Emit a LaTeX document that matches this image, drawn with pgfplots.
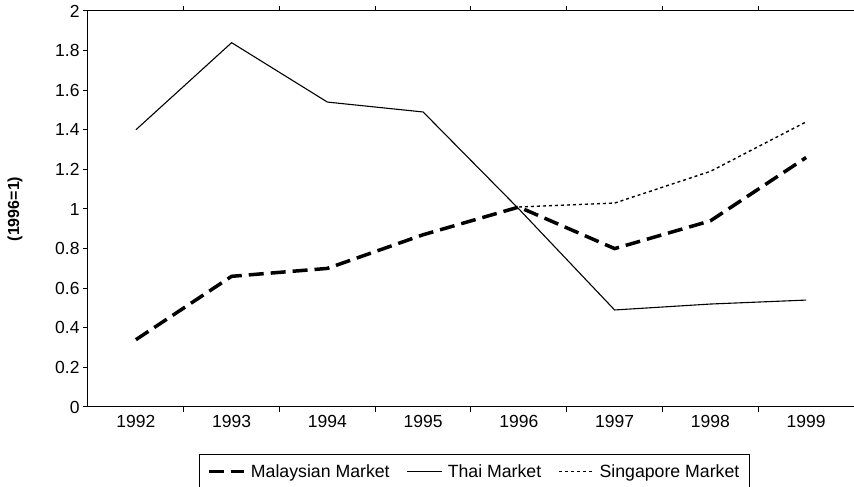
\documentclass[border=0pt]{standalone}
\usepackage{pgfplots}
\pgfplotsset{compat=1.18}
\usepackage{fontspec}
\setmainfont{Liberation Sans}
\begin{document}
\begin{tikzpicture}[x=1pt,y=1pt]
\useasboundingbox (-88,-80) rectangle (766,407);
\begin{axis}[
  at={(0,0)}, anchor=south west,
  scale only axis, width=766pt, height=396pt,
  xmin=1991.5, xmax=1999.5, ymin=0, ymax=2,
  xtick={1992,...,1999},
  minor xtick={1992.5,...,1998.5},
  ytick={0,0.2,...,2.01},
  yticklabels={0,0.2,0.4,0.6,0.8,1,1.2,1.4,1.6,1.8,2},
  xticklabel style={/pgf/number format/1000 sep=},
  /pgf/number format/assume math mode=true,
  tick align=outside,
  major tick length=5pt, minor tick length=5pt,
  major x tick style={draw=none},
  minor x tick style={black, line width=1pt},
  major y tick style={black, line width=1pt},
  axis line style={line width=1pt},
  tick label style={font=\fontsize{17.5}{19}\selectfont},
  ylabel={\textbf{(1996=1)}},
  ylabel style={font=\fontsize{16}{18}\selectfont, at={(axis description cs:-0.081,0.5)}},
  legend columns=3,
  legend style={at={(axis description cs:0.145,-0.119)}, anchor=north west,
    font=\fontsize{17.7}{19}\selectfont, draw=black, line width=0.8pt,
    /tikz/every even column/.append style={column sep=15pt},
    /tikz/every odd column/.append style={column sep=3pt},
    inner xsep=8pt, inner ysep=8pt},
  legend image code/.code={\draw[#1] (0pt,0pt) -- (35pt,0pt);},
]
\addplot[black, line width=3.5pt, dash pattern=on 15pt off 7pt] coordinates {
 (1992,0.34) (1993,0.66) (1994,0.70) (1995,0.87) (1996,1.01) (1997,0.80) (1998,0.94) (1999,1.26)};
\addlegendentry{Malaysian Market}
\addplot[black, line width=1.1pt] coordinates {
 (1992,1.40) (1993,1.84) (1994,1.54) (1995,1.49) (1996,1.00) (1997,0.49) (1998,0.52) (1999,0.54)};
\addlegendentry{Thai Market}
\addplot[black, line width=1.4pt, dash pattern=on 3pt off 3pt] coordinates {
 (1996,1.01) (1997,1.03) (1998,1.19) (1999,1.44)};
\addlegendentry{Singapore Market}
\end{axis}
\end{tikzpicture}
\end{document}
